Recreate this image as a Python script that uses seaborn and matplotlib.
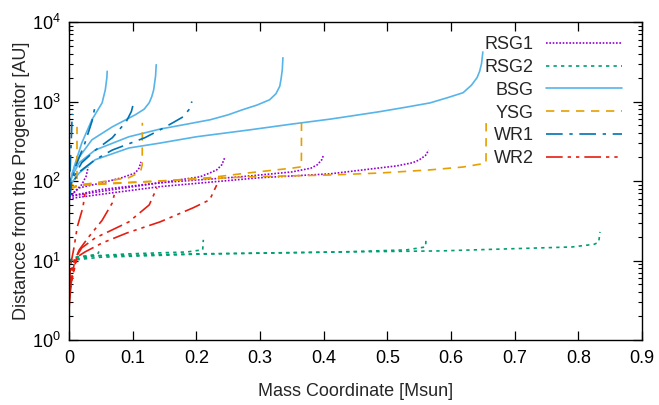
import pandas as pd
import matplotlib
matplotlib.use("Agg")
import matplotlib.pyplot as plt
import seaborn as sns
from matplotlib.ticker import LogLocator, MultipleLocator, NullFormatter

# === 1. Values (one list per track) ===
groups = ["RSG1", "RSG2", "BSG", "YSG", "WR1", "WR2"]
colors = ["#9400d3", "#009e73", "#56b4e9", "#e69f00", "#0072b2", "#e51e10"]

rsg1_x = [
    [0, 0.01, 0.02, 0.027, 0.03],
    [0, 0.016, 0.052, 0.083, 0.104, 0.11, 0.113],
    [0, 0.05, 0.143, 0.206, 0.22, 0.232, 0.24, 0.245],
    [0, 0.05, 0.143, 0.27, 0.35, 0.38, 0.39, 0.397, 0.4],
    [0, 0.05, 0.143, 0.3, 0.41, 0.462, 0.515, 0.54, 0.55, 0.56, 0.565],
]
rsg1_y = [
    [62, 75, 90, 115, 150],
    [63, 82, 95, 110, 126, 145, 174],
    [64, 78, 95, 113, 125, 138, 160, 200],
    [64, 74, 95, 113, 130, 145, 160, 185, 214],
    [60, 68, 85, 110, 123, 138, 155, 170, 184, 210, 245],
]

rsg2_x = [
    [0, 0.01, 0.03, 0.045, 0.047],
    [0, 0.013, 0.091, 0.185, 0.2, 0.21, 0.211],
    [0, 0.038, 0.195, 0.425, 0.53, 0.56, 0.561],
    [0, 0.05, 0.2, 0.425, 0.583, 0.688, 0.79, 0.825, 0.832, 0.834],
]
rsg2_y = [
    [10, 11, 11.5, 12, 13],
    [10, 11.1, 12.1, 12.8, 13.3, 13.6, 18.2],
    [10, 11.4, 12.1, 12.8, 13.6, 14.8, 19.8],
    [10, 11, 12, 12.8, 13.2, 14.0, 14.8, 16, 17, 22.9],
]

bsg_x = [
    [0, 0.008, 0.02, 0.036, 0.052, 0.057, 0.0595, 0.06],
    [0, 0.005, 0.016, 0.036, 0.068, 0.104, 0.118, 0.126, 0.13, 0.133, 0.136, 0.137],
    [0, 0.002, 0.016, 0.041, 0.094, 0.143, 0.18, 0.222, 0.25, 0.273, 0.295,
     0.315, 0.325, 0.331, 0.333, 0.335, 0.336],
    [0, 0.0016, 0.016, 0.041, 0.094, 0.143, 0.2, 0.284, 0.35, 0.41, 0.45, 0.488,
     0.53, 0.567, 0.595, 0.619, 0.632, 0.641, 0.645, 0.648, 0.65],
]
bsg_y = [
    [80, 150, 300, 590, 960, 1400, 2000, 2400],
    [70, 126, 200, 330, 480, 680, 800, 965, 1150, 1400, 2100, 2900],
    [65, 104, 170, 245, 360, 450, 510, 590, 680, 790, 900,
     1050, 1250, 1550, 1900, 2500, 3550],
    [60, 89, 126, 185, 260, 300, 360, 440, 520, 600, 670, 745,
     850, 960, 1120, 1290, 1600, 2000, 2400, 3000, 4200],
]

ysg_x = [
    [0, 0.004, 0.008, 0.0125, 0.0126],
    [0, 0.016, 0.041, 0.094, 0.108, 0.113, 0.115, 0.1152],
    [0, 0.016, 0.143, 0.22, 0.28, 0.35, 0.363, 0.365, 0.3652],
    [0, 0.016, 0.143, 0.284, 0.41, 0.488, 0.567, 0.619, 0.65, 0.655, 0.6552],
]
ysg_y = [
    [75, 88, 95, 100, 480],
    [80, 89, 95, 110, 125, 138, 160, 540],
    [80, 90, 100, 110, 126, 145, 150, 150, 590],
    [78, 88, 100, 113, 119, 126, 138, 150, 165, 170, 560],
]

wr1_x = [
    [0, 0.002, 0.004, 0.005],
    [0, 0.003, 0.01, 0.025, 0.036, 0.04, 0.041],
    [0, 0.004, 0.02, 0.043, 0.068, 0.09, 0.098, 0.102],
    [0, 0.004, 0.016, 0.041, 0.068, 0.119, 0.143, 0.163, 0.179, 0.189, 0.193],
]
wr1_y = [
    [50, 150, 400, 700],
    [60, 90, 150, 300, 560, 800, 965],
    [60, 100, 170, 250, 350, 560, 750, 1000],
    [55, 90, 130, 185, 245, 350, 440, 540, 640, 800, 1000],
]

wr2_x = [
    [0, 0.001, 0.002],
    [0, 0.003, 0.008],
    [0, 0.005, 0.012],
    [0, 0.002, 0.008, 0.013, 0.022, 0.025],
    [0, 0.005, 0.016, 0.031, 0.052, 0.068, 0.071],
    [0, 0.008, 0.02, 0.041, 0.068, 0.094, 0.126, 0.138],
    [0, 0.013, 0.025, 0.052, 0.091, 0.143, 0.195, 0.221, 0.232],
]
wr2_y = [
    [2, 5, 8],
    [2.5, 5, 9],
    [3, 6, 11],
    [3, 8.3, 14.8, 26.5, 47, 71],
    [4, 8.3, 13.6, 19.8, 32, 53, 67],
    [4, 10.1, 14.4, 19.2, 24.3, 30.6, 50, 82],
    [4, 11.1, 12.8, 16.6, 22.2, 30.6, 46, 58, 89],
]

tracks = {
    "RSG1": (rsg1_x, rsg1_y),
    "RSG2": (rsg2_x, rsg2_y),
    "BSG": (bsg_x, bsg_y),
    "YSG": (ysg_x, ysg_y),
    "WR1": (wr1_x, wr1_y),
    "WR2": (wr2_x, wr2_y),
}

rows = []
for g in groups:
    xs, ys = tracks[g]
    for i, (cx, cy) in enumerate(zip(xs, ys)):
        for xv, yv in zip(cx, cy):
            rows.append({"group": g, "curve": f"{g}-{i}", "x": xv, "y": yv})
df = pd.DataFrame(rows)

# === 2. Style ===
sns.set_theme(style="ticks")
plt.rcParams["font.family"] = ["Liberation Sans", "DejaVu Sans"]
plt.rcParams["axes.edgecolor"] = "black"
plt.rcParams["axes.linewidth"] = 1.0

palette = dict(zip(groups, colors))
dashes = {
    "RSG1": (1, 1),
    "RSG2": (2, 2.5),
    "BSG": "",
    "YSG": (5, 4),
    "WR1": (10, 4, 2, 4),
    "WR2": (10, 3, 2, 3, 2, 3),
}

fig = plt.figure(figsize=(6.59, 4.05), dpi=100)
ax = fig.add_axes([69 / 659, 1 - 340 / 405, 573 / 659, 318 / 405])

sns.lineplot(data=df, x="x", y="y", hue="group", style="group", units="curve",
             estimator=None, sort=False, hue_order=groups, style_order=groups,
             palette=palette, dashes=dashes, linewidth=1.2, ax=ax)

ax.set_yscale("log")
ax.set_xlim(0, 0.9)
ax.set_ylim(1, 1e4)
ax.xaxis.set_major_locator(MultipleLocator(0.1))
ax.xaxis.set_major_formatter(plt.FuncFormatter(lambda v, p: "0" if abs(v) < 1e-9 else f"{v:.1f}"))
ax.yaxis.set_major_locator(LogLocator(base=10, numticks=10))
ax.yaxis.set_minor_locator(LogLocator(base=10, subs=range(2, 10), numticks=10))
ax.yaxis.set_minor_formatter(NullFormatter())

ax.tick_params(which="both", direction="in", top=True, right=True, colors="black", labelsize=13)
ax.tick_params(which="major", length=6.5, width=0.9)
ax.tick_params(which="minor", length=3.2, width=0.8)
ax.tick_params(axis="x", pad=7)
ax.tick_params(axis="y", pad=6)

ax.set_xlabel("Mass Coordinate [Msun]", fontsize=13, labelpad=12)
ax.set_ylabel("Distancce from the Progenitor [AU]", fontsize=13, labelpad=1)

h, l = ax.get_legend_handles_labels()
ax.legend(h, l, loc="upper right", bbox_to_anchor=(0.977, 0.978), borderaxespad=0,
          markerfirst=False, frameon=False, handlelength=4.2, handletextpad=0.66,
          labelspacing=0.32, fontsize=13)

fig.savefig("out.png", dpi=100)
